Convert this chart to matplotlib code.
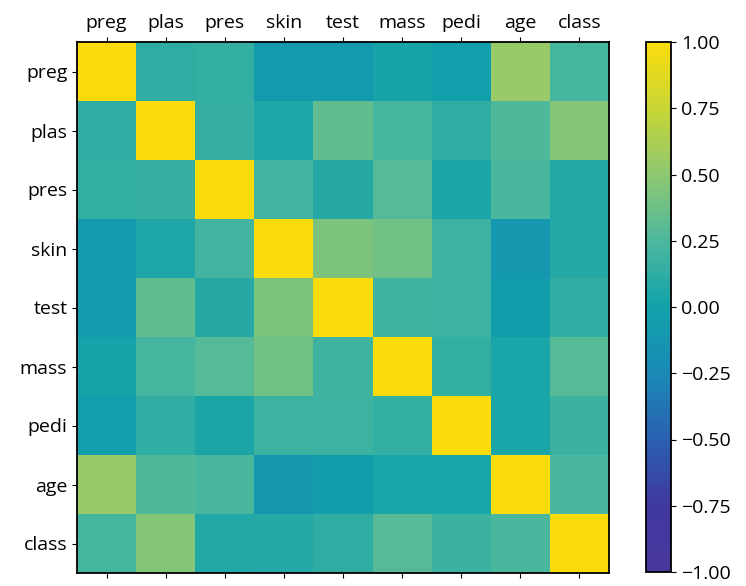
import numpy as np
import matplotlib
matplotlib.use("Agg")
import matplotlib.pyplot as plt
from matplotlib.colors import LinearSegmentedColormap

plt.rcParams['font.family'] = ['Open Sans', 'DejaVu Sans']
plt.rcParams['font.size'] = 14

# Pima diabetes attributes and their pairwise Pearson correlations
names = ['preg', 'plas', 'pres', 'skin', 'test', 'mass', 'pedi', 'age', 'class']
preg_r  = [1.000, 0.129, 0.141, -0.082, -0.074, 0.018, -0.034, 0.544, 0.222]
plas_r  = [0.129, 1.000, 0.153, 0.057, 0.331, 0.221, 0.137, 0.264, 0.467]
pres_r  = [0.141, 0.153, 1.000, 0.207, 0.089, 0.282, 0.041, 0.240, 0.065]
skin_r  = [-0.082, 0.057, 0.207, 1.000, 0.437, 0.393, 0.184, -0.114, 0.075]
test_r  = [-0.074, 0.331, 0.089, 0.437, 1.000, 0.198, 0.185, -0.042, 0.131]
mass_r  = [0.018, 0.221, 0.282, 0.393, 0.198, 1.000, 0.141, 0.036, 0.293]
pedi_r  = [-0.034, 0.137, 0.041, 0.184, 0.185, 0.141, 1.000, 0.034, 0.174]
age_r   = [0.544, 0.264, 0.240, -0.114, -0.042, 0.036, 0.034, 1.000, 0.238]
class_r = [0.222, 0.467, 0.065, 0.075, 0.131, 0.293, 0.174, 0.238, 1.000]

correlations = np.array([preg_r, plas_r, pres_r, skin_r, test_r,
                         mass_r, pedi_r, age_r, class_r])

# viridis-like ramp, a little brighter in the teal/green range
ramp = ['#48389c', '#4038a0', '#2a60b0', '#1a8ab6', '#12a2aa',
        '#4cb89e', '#8ec872', '#c8d636', '#fadc0c']
cmap = LinearSegmentedColormap.from_list('corr', ramp)

fig = plt.figure(figsize=(7.46, 5.86), dpi=100)
ax = fig.add_axes([77/746, 13/586, 532/746, 531/586])
cax = ax.matshow(correlations, vmin=-1, vmax=1, cmap=cmap, aspect='auto')
for s in ax.spines.values():
    s.set_linewidth(1.3)

cbar_ax = fig.add_axes([646/746, 14/586, 25/746, 530/586])
cb = fig.colorbar(cax, cax=cbar_ax)
cb.set_ticks(np.arange(-1, 1.01, 0.25))
cb.ax.tick_params(labelsize=14)
cb.outline.set_linewidth(1.3)

ticks = np.arange(0, 9, 1)
ax.set_xticks(ticks)
ax.set_yticks(ticks)
ax.set_xticklabels(names)
ax.set_yticklabels(names)
ax.tick_params(labelsize=14)

fig.savefig("out.png", dpi=100)
